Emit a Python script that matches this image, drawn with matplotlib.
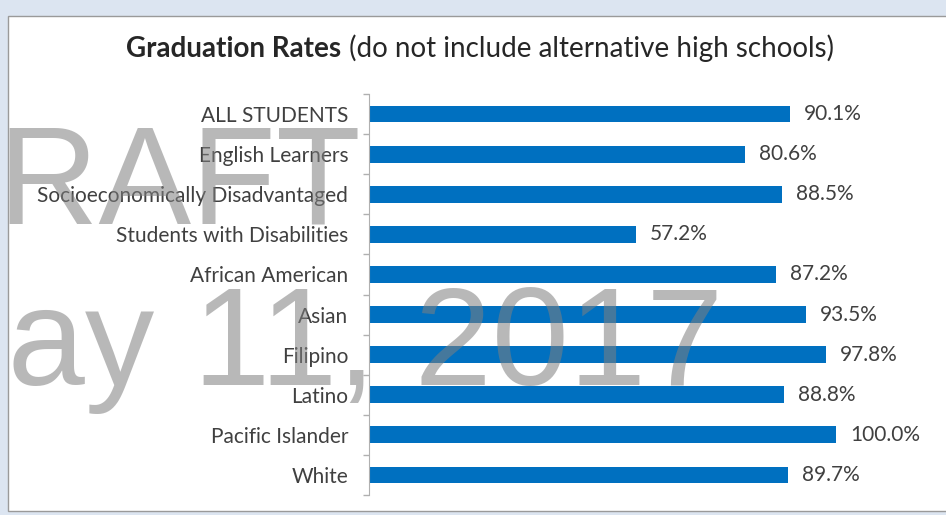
import matplotlib.pyplot as plt
from matplotlib.patches import Rectangle
from matplotlib.ticker import FixedLocator

# data
categories = ['ALL STUDENTS', 'English Learners', 'Socioeconomically Disadvantaged',
              'Students with Disabilities', 'African American', 'Asian', 'Filipino',
              'Latino', 'Pacific Islander', 'White']
rates = [90.1, 80.6, 88.5, 57.2, 87.2, 93.5, 97.8, 88.8, 100.0, 89.7]

W, H = 946, 515
BAR_COLOR = '#0070c0'
TEXT_COLOR = '#404040'
FONT = ['Lato', 'DejaVu Sans']

plt.rcParams['font.family'] = FONT

fig = plt.figure(figsize=(W / 100, H / 100), dpi=100)
fig.patch.set_facecolor('#dce5f1')

# white chart box with thin gray border
fig.patches.append(Rectangle((8 / W, 4 / H), 1.0, (H - 20) / H, transform=fig.transFigure,
                             facecolor='white', edgecolor='#9a9a9a', linewidth=1.0, zorder=-5))

def px(x, y):
    return x / W, 1 - y / H

ax_left, ax_right, ax_top, ax_bottom = 369, 900, 94, 495
ax = fig.add_axes([ax_left / W, 1 - ax_bottom / H, (ax_right - ax_left) / W, (ax_bottom - ax_top) / H])
ax.set_facecolor('none')

y_pos = list(range(len(categories)))
ax.barh(y_pos, rates, height=0.42, color=BAR_COLOR, zorder=2)

x_max = 100 * (ax_right - ax_left) / 467
ax.set_xlim(0, x_max)
ax.set_ylim(len(categories) - 0.5, -0.5)

for y, v in zip(y_pos, rates):
    ax.annotate(f'{v:.1f}%', (v, y), xytext=(10, 0), textcoords='offset points',
                va='center', ha='left', fontsize=15, color=TEXT_COLOR)

ax.set_yticks(y_pos)
ax.set_yticklabels(categories, fontsize=15, color=TEXT_COLOR)
ax.tick_params(axis='y', which='major', length=0, pad=15)
ax.yaxis.set_minor_locator(FixedLocator([i - 0.5 for i in range(len(categories) + 1)]))
ax.tick_params(axis='y', which='minor', length=4, color='#b0b0b0', width=1)
ax.set_xticks([])
for side in ['top', 'right', 'bottom']:
    ax.spines[side].set_visible(False)
ax.spines['left'].set_color('#b0b0b0')

# title: bold part + regular part, centred
fig.canvas.draw()
renderer = fig.canvas.get_renderer()
t1 = fig.text(0, 1 - 57 / H, 'Graduation Rates', fontsize=20, fontweight='bold',
              color='#262626', va='baseline')
t2 = fig.text(0, 1 - 57 / H, ' (do not include alternative high schools)', fontsize=20,
              color='#262626', va='baseline')
w1 = t1.get_window_extent(renderer).width
w2 = t2.get_window_extent(renderer).width
start = 480 - (w1 + w2) / 2
t1.set_x(start / W)
t2.set_x((start + w1) / W)

# watermark
wm = dict(fontsize=100, color='#7f7f7f', alpha=0.55, family='Liberation Sans',
          va='baseline', ha='right', zorder=10)
fig.text(*px(361, 223), 'DRAFT', **wm)
fig.text(*px(723, 385), 'May 11, 2017', **wm)

fig.savefig('out.png', dpi=100, facecolor=fig.get_facecolor())
